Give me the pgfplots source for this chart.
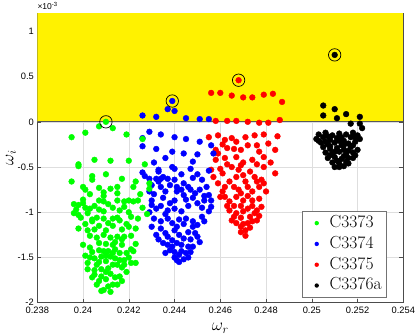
\documentclass[border=0pt]{standalone}
\usepackage{fontspec}
\usepackage{pgfplots}
\usepackage{pgfplotstable}
\pgfplotsset{compat=1.18}
\newfontfamily\arialf{Liberation Sans}

% omega_i values are in units of 1e-3
\pgfplotstableread{
x y
0.2410 0.00
0.2407 -0.05
0.2413 -0.07
0.2395 -0.17
0.2401 -0.12
0.2419 -0.14
0.2426 -0.19
0.2398 -0.47
0.2398 -0.49
0.2405 -0.42
0.2412 -0.43
0.2420 -0.43
0.2427 -0.47
0.2395 -0.66
0.2404 -0.60
0.2404 -0.64
0.2410 -0.58
0.2417 -0.63
0.2423 -0.66
0.2400 -0.72
0.2401 -0.75
0.2407 -0.73
0.2409 -0.78
0.2409 -0.82
0.2412 -0.74
0.2415 -0.72
0.2422 -0.72
0.2429 -0.68
0.2429 -0.74
0.2403 -0.80
0.2415 -0.79
0.2425 -0.80
0.2400 -0.86
0.2400 -0.90
0.2407 -0.87
0.2409 -0.88
0.2415 -0.87
0.2418 -0.88
0.2420 -0.87
0.2422 -0.88
0.2424 -0.87
0.2396 -0.91
0.2398 -0.92
0.2401 -0.95
0.2405 -0.93
0.2411 -0.91
0.2418 -0.94
0.2426 -0.95
0.2397 -0.97
0.2403 -0.96
0.2402 -1.01
0.2413 -0.95
0.2416 -0.98
0.2407 -0.97
0.2409 -0.99
0.2396 -1.01
0.2398 -1.03
0.2399 -1.06
0.2404 -1.08
0.2404 -1.10
0.2406 -1.06
0.2409 -1.07
0.2413 -1.07
0.2413 -1.15
0.2415 -1.06
0.2416 -1.09
0.2419 -1.13
0.2420 -1.16
0.2423 -1.18
0.2428 -1.02
0.2420 -1.00
0.2421 -1.05
0.2424 -1.07
0.2411 -1.12
0.2401 -1.13
0.2407 -1.15
0.2417 -1.19
0.2410 -1.20
0.2398 -1.18
0.2402 -1.20
0.2405 -1.19
0.2403 -1.26
0.2406 -1.28
0.2409 -1.25
0.2412 -1.28
0.2415 -1.27
0.2417 -1.30
0.2418 -1.27
0.2421 -1.26
0.2407 -1.34
0.2410 -1.35
0.2414 -1.33
0.2423 -1.35
0.2400 -1.36
0.2403 -1.39
0.2413 -1.36
0.2417 -1.36
0.2404 -1.44
0.2407 -1.42
0.2409 -1.43
0.2411 -1.43
0.2414 -1.41
0.2413 -1.45
0.2416 -1.45
0.2419 -1.45
0.2421 -1.41
0.2422 -1.43
0.2401 -1.48
0.2403 -1.50
0.2405 -1.51
0.2408 -1.49
0.2410 -1.48
0.2412 -1.49
0.2414 -1.51
0.2416 -1.53
0.2418 -1.53
0.2420 -1.50
0.2421 -1.56
0.2423 -1.56
0.2402 -1.56
0.2407 -1.55
0.2410 -1.54
0.2406 -1.58
0.2413 -1.58
0.2415 -1.58
0.2418 -1.58
0.2402 -1.63
0.2405 -1.64
0.2408 -1.63
0.2410 -1.66
0.2411 -1.62
0.2417 -1.61
0.2419 -1.66
0.2405 -1.69
0.2404 -1.72
0.2408 -1.71
0.2410 -1.74
0.2412 -1.68
0.2414 -1.72
0.2416 -1.71
0.2417 -1.76
0.2407 -1.76
0.2406 -1.80
0.2411 -1.82
0.2413 -1.80
0.2415 -1.80
0.2409 -1.86
0.2408 -1.87
0.2412 -1.88
}\greentab

\pgfplotstableread{
x y
0.2439 0.23
0.2437 0.14
0.2440 0.12
0.2426 0.07
0.2432 0.055
0.2445 0.04
0.2451 0.03
0.2455 0.03
0.2429 -0.11
0.2434 -0.14
0.2440 -0.17
0.2445 -0.19
0.2451 -0.22
0.2426 -0.18
0.2426 -0.27
0.2432 -0.30
0.2439 -0.33
0.2444 -0.35
0.2450 -0.36
0.2456 -0.26
0.2457 -0.35
0.2431 -0.45
0.2436 -0.40
0.2448 -0.44
0.2433 -0.53
0.2433 -0.55
0.2439 -0.50
0.2440 -0.52
0.2447 -0.52
0.2455 -0.54
0.2443 -0.58
0.2450 -0.58
0.2426 -0.56
0.2427 -0.60
0.2429 -0.63
0.2432 -0.63
0.2434 -0.63
0.2433 -0.66
0.2435 -0.61
0.2437 -0.63
0.2440 -0.64
0.2438 -0.70
0.2441 -0.72
0.2441 -0.77
0.2443 -0.75
0.2444 -0.68
0.2446 -0.72
0.2447 -0.75
0.2448 -0.62
0.2449 -0.79
0.2451 -0.75
0.2452 -0.64
0.2454 -0.72
0.2453 -0.82
0.2455 -0.81
0.2456 -0.87
0.2456 -0.94
0.2430 -0.70
0.2429 -0.77
0.2431 -0.80
0.2434 -0.72
0.2436 -0.77
0.2435 -0.84
0.2430 -0.87
0.2430 -0.92
0.2432 -0.96
0.2434 -0.93
0.2437 -0.98
0.2438 -0.90
0.2440 -0.96
0.2440 -0.87
0.2444 -0.81
0.2445 -0.86
0.2448 -0.84
0.2446 -0.93
0.2450 -0.90
0.2452 -0.95
0.2453 -0.87
0.2443 -0.99
0.2455 -0.99
0.2429 -1.00
0.2436 -1.02
0.2431 -1.07
0.2434 -1.10
0.2437 -1.07
0.2439 -1.12
0.2430 -1.16
0.2434 -1.18
0.2432 -1.25
0.2433 -1.30
0.2442 -1.08
0.2444 -1.13
0.2445 -1.07
0.2448 -1.10
0.2450 -1.14
0.2452 -1.05
0.2453 -1.10
0.2448 -1.16
0.2441 -1.16
0.2446 -1.22
0.2440 -1.20
0.2436 -1.23
0.2437 -1.27
0.2439 -1.31
0.2442 -1.25
0.2444 -1.29
0.2447 -1.30
0.2449 -1.23
0.2450 -1.27
0.2451 -1.33
0.2435 -1.34
0.2437 -1.36
0.2439 -1.38
0.2441 -1.34
0.2443 -1.36
0.2446 -1.38
0.2448 -1.38
0.2436 -1.45
0.2438 -1.42
0.2440 -1.44
0.2443 -1.43
0.2445 -1.45
0.2447 -1.44
0.2442 -1.47
0.2440 -1.50
0.2441 -1.53
0.2442 -1.55
0.2444 -1.52
0.2446 -1.50
}\bluetab

\pgfplotstableread{
x y
0.2468 0.46
0.2456 0.32
0.2460 0.32
0.2465 0.29
0.2470 0.27
0.2474 0.27
0.2479 0.30
0.2483 0.31
0.2487 0.22
0.2458 0.01
0.2463 0.01
0.2467 0.01
0.2472 0.00
0.2477 -0.01
0.2481 -0.01
0.2486 0.02
0.2455 -0.17
0.2459 -0.15
0.2462 -0.20
0.2465 -0.18
0.2467 -0.22
0.2471 -0.17
0.2475 -0.15
0.2479 -0.14
0.2485 -0.16
0.2461 -0.25
0.2472 -0.26
0.2476 -0.26
0.2481 -0.24
0.2458 -0.31
0.2459 -0.35
0.2463 -0.29
0.2466 -0.30
0.2467 -0.39
0.2469 -0.31
0.2477 -0.33
0.2479 -0.39
0.2484 -0.31
0.2458 -0.42
0.2462 -0.40
0.2474 -0.42
0.2470 -0.45
0.2482 -0.45
0.2463 -0.47
0.2476 -0.47
0.2456 -0.53
0.2457 -0.61
0.2460 -0.52
0.2461 -0.57
0.2465 -0.50
0.2468 -0.53
0.2469 -0.48
0.2467 -0.61
0.2470 -0.59
0.2473 -0.55
0.2475 -0.61
0.2478 -0.64
0.2479 -0.68
0.2479 -0.50
0.2484 -0.57
0.2459 -0.68
0.2464 -0.66
0.2471 -0.66
0.2476 -0.66
0.2462 -0.72
0.2466 -0.72
0.2468 -0.75
0.2472 -0.72
0.2474 -0.77
0.2477 -0.72
0.2480 -0.77
0.2461 -0.77
0.2469 -0.79
0.2472 -0.82
0.2460 -0.83
0.2462 -0.83
0.2464 -0.88
0.2467 -0.83
0.2470 -0.87
0.2474 -0.87
0.2477 -0.85
0.2463 -0.93
0.2466 -0.93
0.2469 -0.93
0.2474 -0.93
0.2478 -0.94
0.2464 -0.98
0.2467 -1.01
0.2470 -0.99
0.2472 -0.96
0.2475 -1.01
0.2476 -0.98
0.2466 -1.05
0.2469 -1.06
0.2473 -1.05
0.2477 -1.04
0.2465 -1.09
0.2467 -1.12
0.2469 -1.16
0.2470 -1.13
0.2472 -1.12
0.2474 -1.10
0.2476 -1.09
0.2473 -1.17
0.2471 -1.20
0.2469 -1.22
0.2471 -1.26
}\redtab

\pgfplotstableread{
x y
0.2510 0.74
0.2505 0.18
0.2505 0.07
0.2510 0.14
0.2511 0.04
0.2515 0.085
0.2521 0.055
0.2517 -0.02
0.2521 -0.02
0.2522 -0.07
0.2503 -0.14
0.2506 -0.12
0.2509 -0.15
0.2512 -0.13
0.2515 -0.14
0.2518 -0.12
0.2520 -0.15
0.2507 -0.16
0.2513 -0.17
0.2519 -0.17
0.2502 -0.19
0.2505 -0.17
0.2508 -0.20
0.2511 -0.18
0.2514 -0.21
0.2517 -0.17
0.2521 -0.19
0.2503 -0.21
0.2506 -0.22
0.2512 -0.21
0.2504 -0.23
0.2507 -0.25
0.2510 -0.23
0.2513 -0.26
0.2516 -0.24
0.2519 -0.22
0.2518 -0.26
0.2505 -0.28
0.2508 -0.27
0.2508 -0.30
0.2511 -0.29
0.2514 -0.26
0.2514 -0.31
0.2517 -0.28
0.2520 -0.31
0.2506 -0.34
0.2509 -0.35
0.2510 -0.33
0.2512 -0.33
0.2515 -0.36
0.2516 -0.32
0.2518 -0.34
0.2519 -0.37
0.2508 -0.37
0.2514 -0.38
0.2507 -0.40
0.2510 -0.39
0.2513 -0.41
0.2516 -0.40
0.2518 -0.40
0.2511 -0.43
0.2509 -0.45
0.2512 -0.46
0.2515 -0.44
0.2516 -0.46
0.2510 -0.50
0.2512 -0.50
0.2514 -0.49
}\blacktab

% circled points
\pgfplotstableread{
x y
0.2410 0.00
0.2439 0.23
0.2468 0.46
0.2510 0.74
}\circtab

\begin{document}
\begin{tikzpicture}
\begin{axis}[
    name=ax,
    width=366pt, height=289.4pt, scale only axis,
    xmin=0.238, xmax=0.254, ymin=-2, ymax=1.2,
    xtick={0.238,0.240,0.242,0.244,0.246,0.248,0.250,0.252,0.254},
    ytick={-2,-1.5,-1,-0.5,0,0.5,1},
    scaled x ticks=false, scaled y ticks=false,
    grid=major, major grid style={black!13, line width=0.4pt},
    axis line style={black!70}, tick style={black!70, line width=0.5pt},
    major tick length=4pt, tick align=inside, xtick pos=both, ytick pos=both,
    tick label style={font=\fontsize{9.3}{11}\selectfont\arialf},
    /pgf/number format/assume math mode=true,
    xticklabel style={/pgf/number format/fixed, /pgf/number format/precision=3, yshift=-1pt},
    xlabel={$\omega_r$}, ylabel={$\omega_i$},
    xlabel style={at={(axis description cs:0.5,-0.089)}, anchor=center, font=\fontsize{17}{19}\selectfont},
    ylabel style={at={(axis description cs:-0.072,0.5)}, anchor=center, font=\fontsize{17}{19}\selectfont},
    legend image code/.code={\path[draw=none, fill=none] (0pt,-3pt) rectangle (22pt,3pt); \fill[#1, draw=none] (12pt,0pt) circle (2.2pt);},
    legend cell align=left,
    legend style={at={(0.955,0.019)}, anchor=south east, draw=black!55, line width=0.5pt,
        font=\fontsize{17.5}{20}\selectfont, inner xsep=2pt, inner ysep=1pt,
        nodes={inner sep=3pt, text height=11.8pt, text depth=3pt}, column sep=0pt},
]
\addplot[fill=yellow, draw=none, forget plot] coordinates {(0.238,0) (0.254,0) (0.254,1.2) (0.238,1.2)};
\addplot[black!65, line width=0.8pt, forget plot] coordinates {(0.238,0) (0.254,0)};

\addplot[only marks, mark=*, mark size=2.9pt, black, forget plot] table {\blacktab};
\addplot[only marks, mark=*, mark size=2.9pt, red, forget plot] table {\redtab};
\addplot[only marks, mark=*, mark size=2.9pt, blue, forget plot] table {\bluetab};
\addplot[only marks, mark=*, mark size=2.9pt, green, forget plot] table {\greentab};
\addplot[only marks, mark=o, mark size=6.2pt, black, line width=0.7pt, forget plot] table {\circtab};

\addlegendimage{green}
\addlegendentry{C3373}
\addlegendimage{blue}
\addlegendentry{C3374}
\addlegendimage{red}
\addlegendentry{C3375}
\addlegendimage{black}
\addlegendentry{C3376a}
\end{axis}
\node[anchor=base west, inner sep=0pt, yshift=4pt, font=\fontsize{8.5}{9}\selectfont\arialf] at (ax.north west) {×10\textsuperscript{-3}};
\pgfresetboundingbox
\path[use as bounding box] (-37.3pt,-33.3pt) rectangle (377.7pt,302.7pt);
\end{tikzpicture}
\end{document}
